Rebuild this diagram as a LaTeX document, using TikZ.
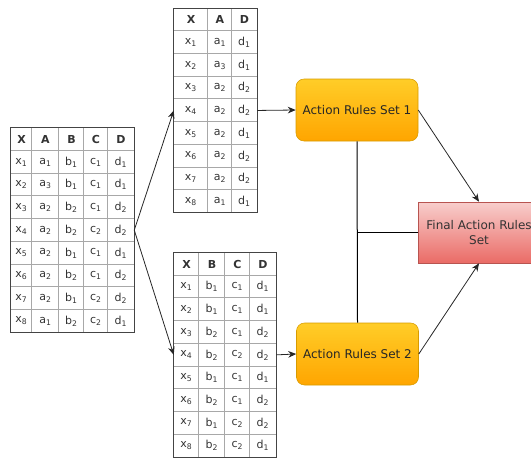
\documentclass[tikz,border=0pt]{standalone}
\usepackage{fontspec}
\setmainfont{DejaVu Sans}
\usetikzlibrary{positioning,calc,arrows.meta}
\definecolor{gridgray}{HTML}{A8A8A8}
\definecolor{rimgray}{HTML}{444444}
\definecolor{orangetop}{HTML}{FFCD28}
\definecolor{orangebot}{HTML}{FFA500}
\definecolor{orangeline}{HTML}{D79B00}
\definecolor{redtop}{HTML}{F8CECC}
\definecolor{redbot}{HTML}{EA6B66}
\definecolor{redline}{HTML}{B85450}
\tikzset{font=\fontsize{8.25}{10}\selectfont}

% one table cell: name, left, right, y, text
\newcommand{\tcell}[5]{%
  \node[cellbox, minimum width={(#3-#2)*0.75pt}] (#1) at ({(#2+#3)/2}, #4) {#5};}

\begin{document}
\begin{tikzpicture}[x=0.75pt, y=-0.75pt,
	cellbox/.style={inner sep=0pt, minimum height=17.025pt, text=black!80},
	grid/.style={draw=gridgray, line width=0.6pt},
	rim/.style={draw=rimgray, line width=0.75pt},
	action/.style={draw=orangeline, rounded corners=6pt, top color=orangetop, bottom color=orangebot,
		minimum width=91.5pt, minimum height=46.5pt, font=\fontsize{9}{11}\selectfont, text=black!85},
	final/.style={draw=redline, top color=redtop, bottom color=redbot, align=center,
		minimum width=91.5pt, minimum height=45.75pt, font=\fontsize{9}{11}\selectfont, text=black!80},
	arr/.style={-{Stealth[length=6pt,width=5pt]}, line width=0.6pt, black!85},
	link/.style={line width=0.75pt}]
	\useasboundingbox (0,0) rectangle (531,457);
	\clip (0,0) rectangle (531,457);

	% header rows
	\tcell{L-0-1}{11}{32}{139.35}{\textbf{X}}
	\tcell{L-0-2}{32}{59}{139.35}{\textbf{A}}
	\tcell{L-0-3}{59}{84}{139.35}{\textbf{B}}
	\tcell{L-0-4}{84}{108}{139.35}{\textbf{C}}
	\tcell{L-0-5}{108}{134}{139.35}{\textbf{D}}

	\tcell{T-0-1}{174}{208}{19.65}{\textbf{X}}
	\tcell{T-0-2}{208}{232}{19.65}{\textbf{A}}
	\tcell{T-0-3}{232}{257}{19.65}{\textbf{D}}

	\tcell{B-0-1}{174}{199}{264.05}{\textbf{X}}
	\tcell{B-0-2}{199}{225}{264.05}{\textbf{B}}
	\tcell{B-0-3}{225}{250}{264.05}{\textbf{C}}
	\tcell{B-0-4}{250}{276}{264.05}{\textbf{D}}

	% body rows
	\foreach \r/\sa/\sb/\sc/\sd in {1/1/1/1/1, 2/3/1/1/1, 3/2/2/1/2, 4/2/2/2/2,
		5/2/1/1/1, 6/2/2/1/2, 7/2/1/2/2, 8/1/2/2/1} {
		\pgfmathsetmacro{\yl}{128+22.7*(\r+0.5)}
		\pgfmathsetmacro{\yt}{8.3+22.7*(\r+0.5)}
		\pgfmathsetmacro{\yb}{252.7+22.7*(\r+0.5)}
		\tcell{L-\r-1}{11}{32}{\yl}{x\textsubscript{\r}}
		\tcell{L-\r-2}{32}{59}{\yl}{a\textsubscript{\sa}}
		\tcell{L-\r-3}{59}{84}{\yl}{b\textsubscript{\sb}}
		\tcell{L-\r-4}{84}{108}{\yl}{c\textsubscript{\sc}}
		\tcell{L-\r-5}{108}{134}{\yl}{d\textsubscript{\sd}}
		\tcell{T-\r-1}{174}{208}{\yt}{x\textsubscript{\r}}
		\tcell{T-\r-2}{208}{232}{\yt}{a\textsubscript{\sa}}
		\tcell{T-\r-3}{232}{257}{\yt}{d\textsubscript{\sd}}
		\tcell{B-\r-1}{174}{199}{\yb}{x\textsubscript{\r}}
		\tcell{B-\r-2}{199}{225}{\yb}{b\textsubscript{\sb}}
		\tcell{B-\r-3}{225}{250}{\yb}{c\textsubscript{\sc}}
		\tcell{B-\r-4}{250}{276}{\yb}{d\textsubscript{\sd}}
	}

	% grid lines
	\foreach \r in {1,...,8} {
		\draw[grid] (L-\r-1.north west) -- (L-\r-5.north east);
		\draw[grid] (T-\r-1.north west) -- (T-\r-3.north east);
		\draw[grid] (B-\r-1.north west) -- (B-\r-4.north east);
	}
	\foreach \c in {2,...,5} \draw[grid] (L-0-\c.north west) -- (L-8-\c.south west);
	\foreach \c in {2,3} \draw[grid] (T-0-\c.north west) -- (T-8-\c.south west);
	\foreach \c in {2,...,4} \draw[grid] (B-0-\c.north west) -- (B-8-\c.south west);

	\draw[rim] (L-0-1.north west) rectangle (L-8-5.south east);
	\draw[rim] (T-0-1.north west) rectangle (T-8-3.south east);
	\draw[rim] (B-0-1.north west) rectangle (B-8-4.south east);

	\node[action] (act1) at (357, 110) {Action Rules Set 1};
	\node[action] (act2) at (357.5, 354) {Action Rules Set 2};
	\node[final] (fin) at (479, 232.5) {Final Action Rules\\Set};

	\draw[arr] (L-4-5.east) -- (T-4-1.west);
	\draw[arr] (L-4-5.east) -- (B-4-1.west);
	\draw[arr] (T-4-3.east) -- (act1.west);
	\draw[arr] (B-4-4.east) -- (act2.west);
	\draw[arr] (act1.east) -- (fin.north);
	\draw[arr] (act2.east) -- (fin.south);

	\draw[link] (act1.south) -- (act2.north);
	\draw[link] (fin.west) -- (fin.west -| act1.south);
\end{tikzpicture}
\end{document}
